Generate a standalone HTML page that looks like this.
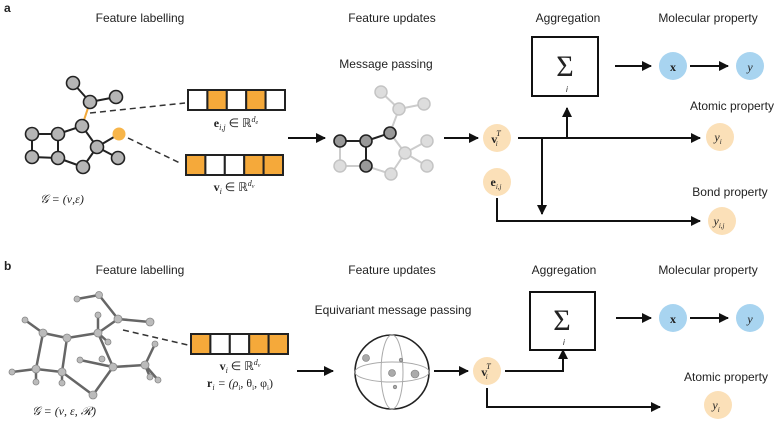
<!DOCTYPE html>
<html><head><meta charset="utf-8"><style>
html,body{margin:0;padding:0;background:#fff}
svg{display:block}
text{font-family:"Liberation Sans",sans-serif;fill:#222}
.t{font-size:12px;text-anchor:middle}
.m{font-family:"Liberation Serif",serif;font-size:12px;text-anchor:middle}
</style></head><body>
<svg width="784" height="428" viewBox="0 0 784 428" xmlns="http://www.w3.org/2000/svg">
<defs>
<marker id="ar" markerWidth="10" markerHeight="10" refX="9" refY="5" orient="auto" markerUnits="userSpaceOnUse"><path d="M0,0 L10,5 L0,10 z" fill="#111"/></marker>
</defs>
<text x="4" y="12" style="font-size:12px;font-weight:bold">a</text>
<text class="t" x="140" y="22">Feature labelling</text>
<text class="t" x="392" y="22">Feature updates</text>
<text class="t" x="568" y="22">Aggregation</text>
<text class="t" x="708" y="22">Molecular property</text>

<!-- graph a -->
<g stroke="#222" stroke-width="2">
<line x1="73" y1="83" x2="90" y2="102"/><line x1="90" y1="102" x2="116" y2="97"/>
<line x1="82" y1="126" x2="58" y2="134"/><line x1="82" y1="126" x2="97" y2="147"/>
<line x1="97" y1="147" x2="118" y2="158"/><line x1="97" y1="147" x2="83" y2="167"/><line x1="97" y1="147" x2="119" y2="134"/>
<line x1="83" y1="167" x2="58" y2="158"/><line x1="58" y1="158" x2="32" y2="157"/><line x1="32" y1="157" x2="32" y2="134"/>
<line x1="32" y1="134" x2="58" y2="134"/><line x1="58" y1="134" x2="58" y2="158"/>
</g>
<line x1="90" y1="102" x2="82" y2="126" stroke="#f2a93b" stroke-width="2"/>
<g fill="#b5b5b5" stroke="#222" stroke-width="1.6">
<circle cx="73" cy="83" r="6.5"/><circle cx="90" cy="102" r="6.5"/><circle cx="116" cy="97" r="6.5"/>
<circle cx="82" cy="126" r="6.5"/><circle cx="97" cy="147" r="6.5"/><circle cx="118" cy="158" r="6.5"/>
<circle cx="83" cy="167" r="6.5"/><circle cx="58" cy="158" r="6.5"/><circle cx="32" cy="157" r="6.5"/>
<circle cx="32" cy="134" r="6.5"/><circle cx="58" cy="134" r="6.5"/>
</g>
<circle cx="119" cy="134" r="6.5" fill="#f7b54a"/>
<line x1="90" y1="113" x2="185" y2="103" stroke="#333" stroke-width="1.5" stroke-dasharray="6,4"/>
<line x1="128" y1="138" x2="182" y2="164" stroke="#333" stroke-width="1.5" stroke-dasharray="6,4"/>
<g stroke="#222" stroke-width="2">
<rect x="188" y="90" width="19.4" height="20" fill="#fff"/><rect x="207.4" y="90" width="19.4" height="20" fill="#f5a93a"/><rect x="226.8" y="90" width="19.4" height="20" fill="#fff"/><rect x="246.2" y="90" width="19.4" height="20" fill="#f5a93a"/><rect x="265.6" y="90" width="19.4" height="20" fill="#fff"/>
<rect x="186" y="155" width="19.4" height="20" fill="#f5a93a"/><rect x="205.4" y="155" width="19.4" height="20" fill="#fff"/><rect x="224.8" y="155" width="19.4" height="20" fill="#fff"/><rect x="244.2" y="155" width="19.4" height="20" fill="#f5a93a"/><rect x="263.6" y="155" width="19.4" height="20" fill="#f5a93a"/>
</g>
<text class="m" x="236" y="127"><tspan font-weight="bold">e</tspan><tspan font-size="8" font-style="italic" dy="3">i,j</tspan><tspan dy="-3"> ∈ ℝ</tspan><tspan font-size="8" font-style="italic" dy="-5">d</tspan><tspan font-size="6" font-style="italic" dy="2">e</tspan></text>
<text class="m" x="234" y="191"><tspan font-weight="bold">v</tspan><tspan font-size="8" font-style="italic" dy="3">i</tspan><tspan dy="-3"> ∈ ℝ</tspan><tspan font-size="8" font-style="italic" dy="-5">d</tspan><tspan font-size="6" font-style="italic" dy="2">v</tspan></text>
<text class="m" x="62" y="203" font-style="italic">𝒢 = (ν,ε)</text>
<line x1="288" y1="138" x2="325" y2="138" stroke="#111" stroke-width="2" marker-end="url(#ar)"/>

<!-- message passing -->
<text class="t" x="386" y="68">Message passing</text>
<g stroke="#ccc" stroke-width="2">
<line x1="381" y1="92" x2="399" y2="109"/><line x1="399" y1="109" x2="424" y2="104"/><line x1="399" y1="109" x2="390" y2="133"/>
<line x1="340" y1="141" x2="340" y2="166"/><line x1="340" y1="166" x2="366" y2="166"/><line x1="366" y1="166" x2="391" y2="174"/>
<line x1="391" y1="174" x2="405" y2="153"/><line x1="390" y1="133" x2="405" y2="153"/><line x1="405" y1="153" x2="427" y2="141"/><line x1="405" y1="153" x2="427" y2="166"/>
</g>
<g stroke="#222" stroke-width="2">
<line x1="340" y1="141" x2="366" y2="141"/><line x1="366" y1="141" x2="390" y2="133"/><line x1="366" y1="141" x2="366" y2="166"/>
</g>
<g fill="#ddd" stroke="#c4c4c4" stroke-width="1.5">
<circle cx="381" cy="92" r="6"/><circle cx="399" cy="109" r="6"/><circle cx="424" cy="104" r="6"/><circle cx="340" cy="166" r="6"/>
<circle cx="391" cy="174" r="6"/><circle cx="405" cy="153" r="6"/><circle cx="427" cy="141" r="6"/><circle cx="427" cy="166" r="6"/>
</g>
<g fill="#999" stroke="#222" stroke-width="1.6">
<circle cx="390" cy="133" r="6"/><circle cx="366" cy="141" r="6"/><circle cx="340" cy="141" r="6"/><circle cx="366" cy="166" r="6"/>
</g>
<line x1="444" y1="138" x2="478" y2="138" stroke="#111" stroke-width="2" marker-end="url(#ar)"/>
<circle cx="497" cy="138" r="14" fill="#fbe0b8"/>
<text class="m" x="496" y="143"><tspan font-weight="bold">v</tspan><tspan font-size="8" font-style="italic" dx="-1" dy="-7">T</tspan><tspan font-size="7" font-style="italic" dx="-5" dy="10">i</tspan></text>
<circle cx="497" cy="182" r="14" fill="#fbe0b8"/>
<text class="m" x="496" y="186"><tspan font-weight="bold">e</tspan><tspan font-size="7" font-style="italic" dy="3">i,j</tspan></text>
<g stroke="#111" stroke-width="2" fill="none">
<line x1="518" y1="138" x2="700" y2="138" marker-end="url(#ar)"/>
<line x1="542" y1="138" x2="542" y2="214" marker-end="url(#ar)"/>
<polyline points="497,198 497,221 700,221" marker-end="url(#ar)"/>
<line x1="567" y1="138" x2="567" y2="108" marker-end="url(#ar)"/>
<rect x="532" y="37" width="66" height="59"/>
<line x1="615" y1="66" x2="651" y2="66" marker-end="url(#ar)"/>
<line x1="690" y1="66" x2="728" y2="66" marker-end="url(#ar)"/>
</g>
<text x="565" y="76" style="font-size:30px;text-anchor:middle;font-family:'Liberation Serif',serif">Σ</text>
<text x="566" y="92" style="font-size:8px;font-style:italic">i</text>
<circle cx="673" cy="66" r="14" fill="#a8d4f0"/><text class="m" x="673" y="71" font-weight="bold">x</text>
<circle cx="750" cy="66" r="14" fill="#a8d4f0"/><text class="m" x="750" y="71" font-style="italic">y</text>
<text class="t" x="732" y="110">Atomic property</text>
<circle cx="720" cy="137" r="14" fill="#fbe0b8"/><text class="m" x="718" y="141" font-style="italic">y<tspan font-size="7" dy="3">i</tspan></text>
<text class="t" x="730" y="196">Bond property</text>
<circle cx="722" cy="221" r="14" fill="#fbe0b8"/><text class="m" x="719" y="225" font-style="italic">y<tspan font-size="7" dy="3">i,j</tspan></text>

<!-- panel b -->
<text x="4" y="270" style="font-size:12px;font-weight:bold">b</text>
<text class="t" x="140" y="274">Feature labelling</text>
<text class="t" x="392" y="274">Feature updates</text>
<text class="t" x="564" y="274">Aggregation</text>
<text class="t" x="708" y="274">Molecular property</text>
<g stroke="#666" stroke-width="2.5">
<line x1="43" y1="333" x2="67" y2="338"/><line x1="67" y1="338" x2="98" y2="333"/><line x1="98" y1="333" x2="118" y2="319"/>
<line x1="118" y1="319" x2="99" y2="295"/><line x1="99" y1="295" x2="77" y2="299"/><line x1="118" y1="319" x2="150" y2="322"/>
<line x1="43" y1="333" x2="36" y2="369"/><line x1="36" y1="369" x2="62" y2="372"/><line x1="62" y1="372" x2="67" y2="338"/>
<line x1="62" y1="372" x2="93" y2="395"/><line x1="93" y1="395" x2="113" y2="367"/><line x1="113" y1="367" x2="98" y2="333"/>
<line x1="113" y1="367" x2="145" y2="365"/><line x1="80" y1="360" x2="113" y2="367"/><line x1="145" y1="365" x2="155" y2="344"/>
<line x1="145" y1="365" x2="158" y2="380"/><line x1="145" y1="365" x2="150" y2="377"/><line x1="36" y1="369" x2="12" y2="372"/>
<line x1="36" y1="369" x2="36" y2="382"/><line x1="62" y1="372" x2="62" y2="383"/><line x1="43" y1="333" x2="25" y2="320"/>
<line x1="98" y1="333" x2="98" y2="315"/><line x1="98" y1="333" x2="108" y2="342"/>
</g>
<g fill="#bbb" stroke="#888" stroke-width="0.8">
<circle cx="99" cy="295" r="3.5"/><circle cx="77" cy="299" r="3"/><circle cx="118" cy="319" r="4"/><circle cx="150" cy="322" r="4"/>
<circle cx="25" cy="320" r="3"/><circle cx="43" cy="333" r="4"/><circle cx="67" cy="338" r="4"/><circle cx="98" cy="315" r="3"/>
<circle cx="98" cy="333" r="4"/><circle cx="108" cy="342" r="3"/><circle cx="155" cy="344" r="3"/><circle cx="12" cy="372" r="3"/>
<circle cx="36" cy="369" r="4"/><circle cx="62" cy="372" r="4"/><circle cx="36" cy="382" r="3"/><circle cx="62" cy="383" r="3"/>
<circle cx="80" cy="360" r="3"/><circle cx="102" cy="359" r="3"/><circle cx="113" cy="367" r="4"/><circle cx="145" cy="365" r="4"/>
<circle cx="158" cy="380" r="3"/><circle cx="150" cy="377" r="3"/><circle cx="93" cy="395" r="4"/>
</g>
<line x1="123" y1="330" x2="188" y2="345" stroke="#333" stroke-width="1.5" stroke-dasharray="6,4"/>
<g stroke="#222" stroke-width="2">
<rect x="191" y="334" width="19.4" height="20" fill="#f5a93a"/><rect x="210.4" y="334" width="19.4" height="20" fill="#fff"/><rect x="229.8" y="334" width="19.4" height="20" fill="#fff"/><rect x="249.2" y="334" width="19.4" height="20" fill="#f5a93a"/><rect x="268.6" y="334" width="19.4" height="20" fill="#f5a93a"/>
</g>
<text class="m" x="240" y="370"><tspan font-weight="bold">v</tspan><tspan font-size="8" font-style="italic" dy="3">i</tspan><tspan dy="-3"> ∈ ℝ</tspan><tspan font-size="8" font-style="italic" dy="-5">d</tspan><tspan font-size="6" font-style="italic" dy="2">v</tspan></text>
<text class="m" x="240" y="387"><tspan font-weight="bold">r</tspan><tspan font-size="8" font-style="italic" dy="3">i</tspan><tspan dy="-3" font-style="italic"> = (ρ</tspan><tspan font-size="7" dy="3">i</tspan><tspan dy="-3">, θ</tspan><tspan font-size="7" dy="3">i</tspan><tspan dy="-3">, φ</tspan><tspan font-size="7" dy="3">i</tspan><tspan dy="-3">)</tspan></text>
<text class="m" x="64" y="415" font-style="italic">𝒢 = (ν, ε, ℛ)</text>
<line x1="297" y1="371" x2="333" y2="371" stroke="#111" stroke-width="2" marker-end="url(#ar)"/>
<text class="t" x="393" y="314">Equivariant message passing</text>
<circle cx="392" cy="372" r="37" fill="#fff" stroke="#222" stroke-width="1.6"/>
<ellipse cx="392" cy="372" rx="37" ry="10" fill="none" stroke="#aaa" stroke-width="1"/>
<ellipse cx="392" cy="372" rx="11" ry="37" fill="none" stroke="#aaa" stroke-width="1"/>
<g fill="#aaa" stroke="#777" stroke-width="0.6">
<circle cx="366" cy="358" r="3.5"/><circle cx="392" cy="373" r="3.5"/><circle cx="415" cy="374" r="4"/><circle cx="401" cy="360" r="1.8"/><circle cx="395" cy="387" r="1.8"/>
</g>
<line x1="434" y1="371" x2="468" y2="371" stroke="#111" stroke-width="2" marker-end="url(#ar)"/>
<circle cx="487" cy="371" r="14" fill="#fbe0b8"/>
<text class="m" x="486" y="376"><tspan font-weight="bold">v</tspan><tspan font-size="8" font-style="italic" dx="-1" dy="-7">T</tspan><tspan font-size="7" font-style="italic" dx="-5" dy="10">i</tspan></text>
<g stroke="#111" stroke-width="2" fill="none">
<polyline points="505,371 563,371 563,350" marker-end="url(#ar)"/>
<rect x="530" y="292" width="65" height="58"/>
<polyline points="487,388 487,407 660,407" marker-end="url(#ar)"/>
<line x1="616" y1="318" x2="651" y2="318" marker-end="url(#ar)"/>
<line x1="690" y1="318" x2="728" y2="318" marker-end="url(#ar)"/>
</g>
<text x="562" y="330" style="font-size:30px;text-anchor:middle;font-family:'Liberation Serif',serif">Σ</text>
<text x="563" y="345" style="font-size:8px;font-style:italic">i</text>
<circle cx="673" cy="318" r="14" fill="#a8d4f0"/><text class="m" x="673" y="323" font-weight="bold">x</text>
<circle cx="750" cy="318" r="14" fill="#a8d4f0"/><text class="m" x="750" y="323" font-style="italic">y</text>
<text class="t" x="726" y="381">Atomic property</text>
<circle cx="718" cy="405" r="14" fill="#fbe0b8"/><text class="m" x="716" y="409" font-style="italic">y<tspan font-size="7" dy="3">i</tspan></text>
</svg>
</body></html>
